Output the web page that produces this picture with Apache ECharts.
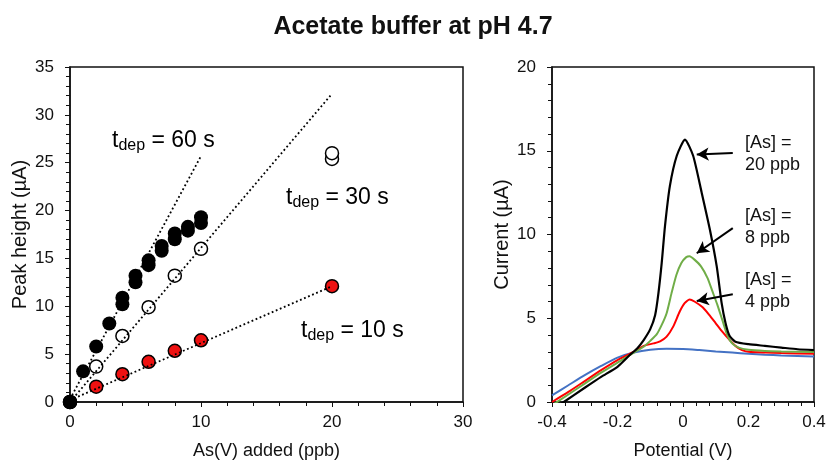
<!DOCTYPE html>
<html>
<head>
<meta charset="utf-8">
<script src="https://cdn.jsdelivr.net/npm/echarts@6.0.0/dist/echarts.min.js"></script>
<style>
  html, body { margin: 0; padding: 0; background: #fff; }
  #chart { width: 826px; height: 461px; }
</style>
</head>
<body>
<div id="chart"></div>
<script>
// left panel: peak height vs As(V) added, three deposition times
var x60 = [0, 1, 2, 3, 4, 4, 5, 5, 6, 6, 7, 7, 8, 8, 9, 9, 10, 10];
var y60 = [0, 3.2, 5.8, 8.2, 10.2, 10.9, 12.5, 13.2, 14.3, 14.8, 15.8, 16.3, 17.0, 17.6, 17.9, 18.3, 18.7, 19.3];
var x30 = [0, 2, 4, 6, 8, 10, 20, 20];
var y30 = [0, 3.7, 6.9, 9.9, 13.2, 16.0, 25.4, 26.0];
var x10 = [0, 2, 4, 6, 8, 10, 20];
var y10 = [0, 1.6, 2.9, 4.2, 5.35, 6.45, 12.1];
// dotted fit lines (end points)
var fit60 = [[0, 0.3], [10, 25.7]];
var fit30 = [[0, 0], [20, 32.2]];
var fit10 = [[0, 0.2], [20, 12.1]];

// right panel: voltammograms
var blank = [[-0.4, 0.4], [-0.35, 1.0], [-0.3, 1.6], [-0.25, 2.15], [-0.2, 2.65], [-0.15, 2.95], [-0.1, 3.12],
  [-0.05, 3.18], [0, 3.17], [0.05, 3.1], [0.1, 3.02], [0.15, 2.95], [0.2, 2.88], [0.25, 2.82], [0.3, 2.78],
  [0.35, 2.75], [0.4, 2.72]];
var as4 = [[-0.4, 0.0], [-0.35, 0.6], [-0.3, 1.25], [-0.25, 1.9], [-0.2, 2.5], [-0.15, 3.0], [-0.12, 3.35],
  [-0.09, 3.5], [-0.07, 3.62], [-0.05, 3.9], [-0.03, 4.5], [-0.01, 5.4], [0.005, 5.9], [0.02, 6.12],
  [0.035, 6.0], [0.06, 5.65], [0.08, 5.2], [0.1, 4.7], [0.12, 4.2], [0.14, 3.75], [0.16, 3.35], [0.18, 3.1],
  [0.2, 3.0], [0.25, 2.95], [0.3, 2.92], [0.4, 2.88]];
var as8 = [[-0.4, -0.2], [-0.35, 0.45], [-0.3, 1.1], [-0.25, 1.75], [-0.2, 2.35], [-0.15, 2.95], [-0.12, 3.3],
  [-0.1, 3.65], [-0.08, 4.05], [-0.065, 4.6], [-0.05, 5.3], [-0.035, 6.5], [-0.02, 7.6], [-0.005, 8.3],
  [0.01, 8.65], [0.02, 8.7], [0.035, 8.5], [0.055, 8.1], [0.075, 7.4], [0.09, 6.6], [0.105, 5.8], [0.12, 4.9],
  [0.135, 4.0], [0.15, 3.5], [0.17, 3.25], [0.2, 3.12], [0.25, 3.05], [0.3, 3.02], [0.4, 2.98]];
var as20 = [[-0.4, -0.45], [-0.364, 0], [-0.3, 0.85], [-0.25, 1.5], [-0.2, 2.1], [-0.16, 2.85], [-0.14, 3.2],
  [-0.12, 3.7], [-0.1, 4.35], [-0.085, 5.2], [-0.075, 6.5], [-0.065, 8.3], [-0.055, 10.5], [-0.04, 12.9],
  [-0.019, 14.7], [0.006, 15.67], [0.031, 14.7], [0.057, 12.5], [0.082, 10.3], [0.103, 8.1], [0.118, 5.9],
  [0.13, 4.7], [0.142, 3.95], [0.16, 3.6], [0.2, 3.45], [0.25, 3.35], [0.3, 3.25], [0.35, 3.15], [0.4, 3.1]];
// arrows: [from, to] in data units
var arrows = [
  [[0.152, 14.87], [0.042, 14.77]],
  [[0.152, 10.38], [0.042, 8.88]],
  [[0.152, 6.43], [0.042, 6.03]]
];

var font = "Liberation Sans, Arial, sans-serif";
var ink = "#111";

function pairs(xs, ys) {
  return xs.map(function (x, i) { return [x, ys[i]]; });
}

function axisCommon(isX) {
  return {
    axisLine: { show: true, onZero: false, lineStyle: { color: ink, width: 1.5 } },
    axisTick: { show: true, inside: false, length: 5, lineStyle: { color: ink, width: 1 } },
    minorTick: { show: true, splitNumber: 5, length: 4, lineStyle: { color: ink, width: 1 } },
    splitLine: { show: false },
    axisLabel: { color: ink, fontSize: 17, fontFamily: font, margin: isX ? 12 : 16 },
    nameTextStyle: { color: ink, fontSize: isX ? 18 : 20, fontFamily: font },
    nameLocation: "middle"
  };
}

function mk(isX, extra) {
  return Object.assign(axisCommon(isX), extra);
}

function tdep(val) {
  return {
    text: "{a|t}{s|dep}{a| = " + val + " s}",
    rich: {
      a: { fontSize: 23, fontFamily: font, color: ink, lineHeight: 26 },
      s: { fontSize: 16, fontFamily: font, color: ink, lineHeight: 11, verticalAlign: "bottom" }
    }
  };
}

function asLabel(val) {
  return {
    text: "[As] =\n" + val + " ppb",
    fontSize: 18, fontFamily: font, fill: ink, lineHeight: 22
  };
}

var chart = echarts.init(document.getElementById("chart"));

chart.setOption({
  animation: false,
  title: {
    text: "Acetate buffer at pH 4.7",
    left: "center",
    top: 10,
    textStyle: { fontSize: 25, fontWeight: "bold", fontFamily: font, color: ink }
  },
  grid: [
    { left: 70, top: 67, width: 393, height: 335, show: true, borderColor: ink, borderWidth: 1.5,
      backgroundColor: "transparent", outerBoundsMode: "none", containLabel: false },
    { left: 552, top: 67, width: 262, height: 335, show: true, borderColor: ink, borderWidth: 1.5,
      backgroundColor: "transparent", outerBoundsMode: "none", containLabel: false }
  ],
  xAxis: [
    mk(true, { gridIndex: 0, type: "value", min: 0, max: 30, interval: 10, name: "As(V) added (ppb)", nameGap: 40 }),
    mk(true, {
      gridIndex: 1, type: "value", min: -0.4, max: 0.4, interval: 0.2, name: "Potential (V)", nameGap: 40,
      axisLabel: {
        color: ink, fontSize: 17, fontFamily: font, margin: 12,
        formatter: function (v) { return (Math.round(v * 10) / 10).toString(); }
      }
    })
  ],
  yAxis: [
    mk(false, { gridIndex: 0, type: "value", min: 0, max: 35, interval: 5, name: "Peak height (\u00b5A)", nameGap: 40 }),
    mk(false, { gridIndex: 1, type: "value", min: 0, max: 20, interval: 5, name: "Current (\u00b5A)", nameGap: 40 })
  ],
  series: [
    {
      name: "10 s", type: "scatter", xAxisIndex: 0, yAxisIndex: 0, data: pairs(x10, y10),
      symbolSize: 13, itemStyle: { color: "#ee1111", borderColor: "#000", borderWidth: 1.5, opacity: 1 }, z: 3
    },
    {
      name: "30 s", type: "scatter", xAxisIndex: 0, yAxisIndex: 0, data: pairs(x30, y30),
      symbolSize: 13, itemStyle: { color: "#fff", borderColor: "#000", borderWidth: 1.5, opacity: 1 }, z: 3
    },
    {
      name: "60 s", type: "scatter", xAxisIndex: 0, yAxisIndex: 0, data: pairs(x60, y60),
      symbolSize: 14, itemStyle: { color: "#000", opacity: 1 }, z: 4
    },
    {
      type: "line", xAxisIndex: 0, yAxisIndex: 0, data: fit60, symbol: "none", z: 5,
      lineStyle: { color: "#000", width: 1.8, type: [1.8, 2.6] }
    },
    {
      type: "line", xAxisIndex: 0, yAxisIndex: 0, data: fit30, symbol: "none", z: 5,
      lineStyle: { color: "#000", width: 1.8, type: [1.8, 2.6] }
    },
    {
      type: "line", xAxisIndex: 0, yAxisIndex: 0, data: fit10, symbol: "none", z: 5,
      lineStyle: { color: "#000", width: 1.8, type: [1.8, 2.6] }
    },
    {
      name: "blank", type: "line", xAxisIndex: 1, yAxisIndex: 1, data: blank, symbol: "none", smooth: 0.2,
      lineStyle: { color: "#4472c4", width: 2 }
    },
    {
      name: "4 ppb", type: "line", xAxisIndex: 1, yAxisIndex: 1, data: as4, symbol: "none", smooth: 0.2,
      lineStyle: { color: "#ff0000", width: 2 }
    },
    {
      name: "8 ppb", type: "line", xAxisIndex: 1, yAxisIndex: 1, data: as8, symbol: "none", smooth: 0.2,
      lineStyle: { color: "#70ad47", width: 2 }
    },
    {
      name: "20 ppb", type: "line", xAxisIndex: 1, yAxisIndex: 1, data: as20, symbol: "none", smooth: 0.2,
      lineStyle: { color: "#000", width: 2.2 },
      markLine: {
        silent: true, animation: false, symbol: ["none", "arrow"], symbolSize: [10, 12],
        label: { show: false },
        lineStyle: { color: "#000", width: 2, type: "solid" },
        data: arrows.map(function (a) { return [{ coord: a[0] }, { coord: a[1] }]; })
      }
    }
  ],
  graphic: [
    { type: "text", left: 112, top: 129, style: tdep(60) },
    { type: "text", left: 286, top: 186, style: tdep(30) },
    { type: "text", left: 301, top: 319, style: tdep(10) },
    { type: "text", left: 745, top: 132, style: asLabel(20) },
    { type: "text", left: 745, top: 205, style: asLabel(8) },
    { type: "text", left: 745, top: 269, style: asLabel(4) }
  ]
});
</script>
</body>
</html>
